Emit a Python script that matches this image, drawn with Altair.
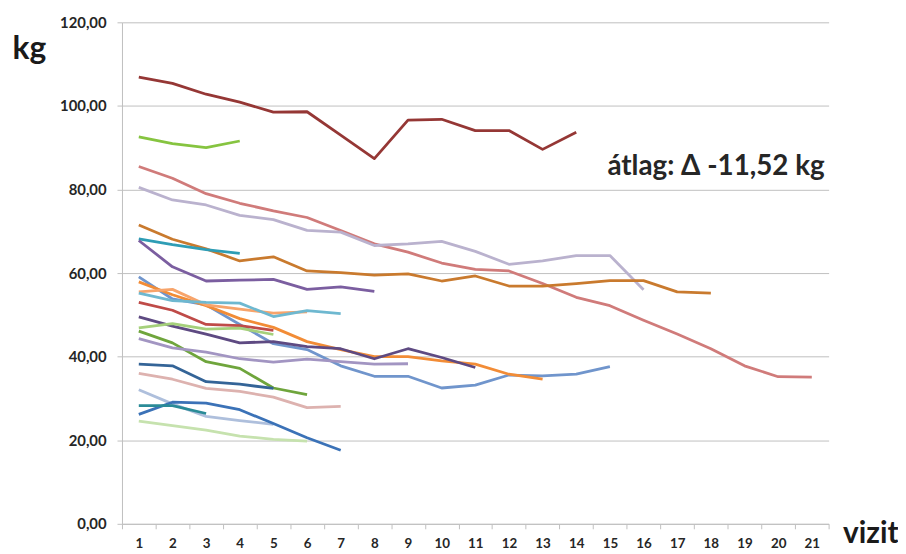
import altair as alt
import pandas as pd

visits = list(range(1, 22))
y_ticks = [0, 20, 40, 60, 80, 100, 120]

s01 = [106.9, 105.4, 102.8, 100.9, 98.5, 98.6, 93.0, 87.4, 96.6, 96.8, 94.1, 94.1, 89.6, 93.7]
s02 = [92.6, 91.0, 90.0, 91.6]
s03 = [85.5, 82.7, 79.0, 76.7, 74.9, 73.3, 70.2, 67.0, 65.0, 62.4, 60.9, 60.5, 57.5, 54.2, 52.2, 48.7, 45.4, 41.9, 37.8, 35.2, 35.1]
s04 = [80.5, 77.5, 76.3, 73.8, 72.8, 70.2, 69.8, 66.6, 67.0, 67.6, 65.2, 62.1, 62.9, 64.2, 64.2, 56.0]
s05 = [71.5, 68.1, 65.8, 62.9, 63.9, 60.5, 60.1, 59.5, 59.8, 58.1, 59.3, 56.9, 56.9, 57.5, 58.2, 58.2, 55.5, 55.2]
s06 = [68.2, 66.8, 65.6, 64.7]
s07 = [67.8, 61.5, 58.1, 58.3, 58.5, 56.1, 56.7, 55.6]
s08 = [59.1, 53.8, 52.4, 47.7, 43.1, 41.7, 37.8, 35.3, 35.3, 32.5, 33.2, 35.6, 35.4, 35.8, 37.6]
s09 = [57.9, 54.8, 52.2, 49.1, 47.0, 43.6, 41.7, 40.0, 40.0, 39.0, 38.2, 35.8, 34.6]
s10 = [49.5, 47.3, 45.4, 43.3, 43.6, 42.4, 41.9, 39.5, 41.9, 39.8, 37.4]
s11 = [55.5, 56.1, 52.4, 51.4, 50.4, 50.7]
s12 = [55.2, 53.4, 53.0, 52.8, 49.6, 51.0, 50.3]
s13 = [53.0, 51.1, 47.7, 47.4, 46.3]
s14 = [46.9, 47.9, 46.6, 46.8, 45.3]
s15 = [46.1, 43.3, 38.8, 37.2, 32.5, 30.9]
s16 = [44.3, 42.1, 41.1, 39.5, 38.7, 39.4, 38.8, 38.2, 38.3]
s17 = [38.2, 37.8, 34.0, 33.4, 32.4]
s18 = [36.0, 34.6, 32.4, 31.7, 30.3, 27.8, 28.1]
s19 = [32.1, 28.7, 25.7, 24.7, 23.8]
s20 = [26.2, 29.1, 28.9, 27.3, 24.0, 20.6, 17.6]
s21 = [28.3, 28.3, 26.4]
s22 = [24.6, 23.5, 22.4, 21.0, 20.2, 19.8]

series = [s01, s02, s03, s04, s05, s06, s07, s08, s09, s10, s11,
          s12, s13, s14, s15, s16, s17, s18, s19, s20, s21, s22]
colors = ["#953735", "#86C440", "#D07B7A", "#BAB2CE", "#C97A2E", "#2E9DB5",
          "#7B5EA0", "#7095CC", "#F28C36", "#5E4A82", "#F7A46B", "#6EB8D0",
          "#BF4B48", "#A5D07B", "#6FA53C", "#A295C2", "#346497", "#DDB2AF",
          "#AEBFDC", "#3B72B7", "#2A8B97", "#C6E2AE"]
names = [f"S{i+1:02d}" for i in range(len(series))]

note_text = "átlag: Δ -11,52 kg"

rows = []
for name, vals in zip(names, series):
    for j, v in enumerate(vals):
        rows.append({"series": name, "vizit": visits[j], "kg": v})
df = pd.DataFrame(rows)

note_df = pd.DataFrame({"vizit": [21], "kg": [85.3], "label": [note_text]})

FONT = "Lato"
x_scale = alt.Scale(type="band", domain=visits, paddingInner=0, paddingOuter=0)
y_scale = alt.Scale(domain=[0, 120])

lines = alt.Chart(df).mark_line(strokeWidth=2.8, strokeJoin="round").encode(
    x=alt.X("vizit:O", scale=x_scale,
            axis=alt.Axis(title="vizit", labelAngle=0, tickBand="extent",
                          labelFont=FONT, labelFontSize=13.5, labelFontWeight="bold",
                          labelColor="#262626", labelPadding=8, tickSize=5,
                          tickColor="#BFBFBF", domainColor="#BFBFBF",
                          titleFont=FONT, titleFontSize=30, titleFontWeight="bold",
                          titleColor="#1a1a1a", titleAngle=0, titleAlign="left",
                          titleBaseline="alphabetic", titleX=727, titleY=19, grid=False)),
    y=alt.Y("kg:Q", scale=y_scale,
            axis=alt.Axis(title="kg", values=y_ticks,
                          labelExpr="replace(format(datum.value, '.2f'), '.', ',')",
                          labelFont=FONT, labelFontSize=15, labelFontWeight="bold",
                          labelColor="#262626", labelPadding=11, tickSize=5,
                          tickColor="#BFBFBF", domainColor="#BFBFBF",
                          gridColor="#BFBFBF", gridWidth=1,
                          titleFont=FONT, titleFontSize=32, titleFontWeight="bold",
                          titleColor="#1a1a1a", titleAngle=0, titleAlign="left",
                          titleBaseline="middle", titleX=-111, titleY=27)),
    color=alt.Color("series:N", scale=alt.Scale(domain=names, range=colors), legend=None),
)

note = alt.Chart(note_df).mark_text(font=FONT, fontSize=28, fontWeight="bold",
                                    color="#262626", align="right", baseline="middle",
                                    dx=13).encode(
    x=alt.X("vizit:O", scale=x_scale),
    y=alt.Y("kg:Q", scale=y_scale),
    text="label:N",
)

chart = alt.layer(lines, note).properties(
    width=713, height=506,
    padding={"left": 115, "top": 12, "right": 70, "bottom": 28},
    autosize=alt.AutoSizeParams(type="none"),
).configure_view(stroke=None)

chart.save("out.html", embed_options={"renderer": "svg", "actions": False})
